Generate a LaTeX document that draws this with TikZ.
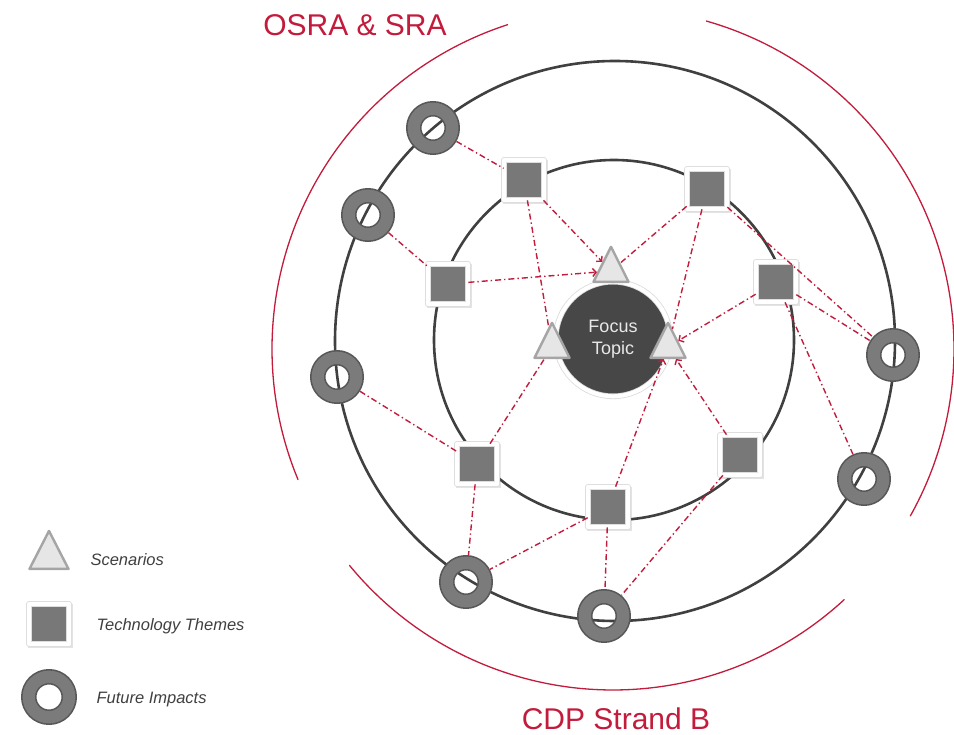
\documentclass[tikz,border=0pt]{standalone}
\usepackage{fontspec}
\setmainfont{Liberation Sans}
\usetikzlibrary{arrows.meta,shapes.geometric,shadows}
\definecolor{orbitInk}{HTML}{404040}
\definecolor{accentRed}{HTML}{C21B3C}
\definecolor{ringInk}{HTML}{575757}
\definecolor{ringGray}{HTML}{7B7B7B}
\definecolor{tileGray}{HTML}{787878}
\definecolor{triFill}{HTML}{E6E6E6}
\definecolor{triEdge}{HTML}{A5A5A5}
\definecolor{focusGray}{HTML}{474747}
\definecolor{focusText}{HTML}{E8E8E8}
\definecolor{legendInk}{HTML}{3F3F3F}
\tikzset{
 plan/.style={x=1pt,y=-1pt,line cap=round,line join=round},
 orbit/.style={draw=orbitInk,line width=2.6pt},
 halo/.style={draw=accentRed,line width=1.3pt},
 focus/.style={circle,fill=focusGray,draw=black!14,double=white,line width=.8pt,double distance=4pt,
   inner sep=0pt,minimum size=114.6pt,text=focusText,align=center,font=\fontsize{18}{22}\selectfont},
 scenario/.style={isosceles triangle,isosceles triangle apex angle=54,isosceles triangle stretches,
   shape border rotate=90,fill=triFill,draw=triEdge,line width=2.4pt,inner sep=0pt,
   minimum width=35pt,minimum height=35pt},
 theme/.style={rectangle,fill=tileGray,draw=black!13,double=white,line width=.7pt,double distance=4.6pt,
   inner sep=0pt,minimum size=40pt,
   drop shadow={opacity=.22,shadow xshift=1.2pt,shadow yshift=-1.8pt,shadow scale=1.12}},
 impact/.style={circle,draw=ringInk,double=ringGray,line width=1.6pt,double distance=12.3pt,
   inner sep=0pt,minimum size=38.5pt,outer sep=7.8pt},
 link/.style={draw=accentRed,line width=1.4pt,dash pattern=on 6pt off 3pt on 1.4pt off 3pt,line cap=butt},
 linkto/.style={link,-{Straight Barb[length=3.5pt,width=8pt]}},
 headline/.style={text=accentRed,font=\fontsize{30}{36}\selectfont,anchor=base,inner sep=0pt},
 key/.style={text=legendInk,font=\fontsize{16.5}{20}\selectfont\itshape,anchor=base west}
}

\begin{document}
\begin{tikzpicture}[plan]
 \useasboundingbox (0,0) rectangle (954,735);
 % orbits and red arcs
 \draw[orbit] (615,341) circle[radius=280];
 \draw[orbit] (614,340) circle[radius=180];
 \draw[halo] ([shift={(-108:341)}]613,349) arc[start angle=-108,end angle=-202.5,radius=341];
 \draw[halo] ([shift={(-74.1:341)}]613,349) arc[start angle=-74.1,end angle=29.3,radius=341];
 \draw[halo] ([shift={(140.6:341)}]613,349) arc[start angle=140.6,end angle=47.3,radius=341];
 \node[headline] (osra) at (355,36) {OSRA \& SRA};
 \node[headline] (cdp) at (616,729) {CDP Strand B};
 % centre
 \node[focus] (focus) at (613,339) {Focus\\Topic};
 \node[scenario] (scn1) at (611,271) {};
 \node[scenario] (scn2) at (552,347) {};
 \node[scenario] (scn3) at (668,347) {};
 % technology themes
 \node[theme] (thm1) at (524,180) {};
 \node[theme] (thm2) at (707,189) {};
 \node[theme] (thm3) at (448,284) {};
 \node[theme] (thm4) at (776,282) {};
 \node[theme] (thm5) at (477,464) {};
 \node[theme] (thm6) at (740,455) {};
 \node[theme] (thm7) at (608,507) {};
 % future impacts
 \node[impact] (imp1) at (433,128) {};
 \node[impact] (imp2) at (368,215) {};
 \node[impact] (imp3) at (337,377) {};
 \node[impact] (imp4) at (466,582) {};
 \node[impact] (imp5) at (604,616) {};
 \node[impact] (imp6) at (893,355) {};
 \node[impact] (imp7) at (864,479) {};
 % links
 \draw[link] (imp1) -- (thm1);
 \draw[link] (imp2) -- (thm3);
 \draw[linkto] (thm1) -- (scn1);
 \draw[linkto] (thm3) -- (scn1);
 \draw[link] (thm1) -- (scn2);
 \draw[link] (thm2) -- (scn1);
 \draw[link] (thm2) -- (scn3);
 \draw[linkto] (thm4) -- (scn3);
 \draw[link] (thm2) -- (imp6);
 \draw[link] (thm4) -- (imp6);
 \draw[link] (thm4) -- (imp7);
 \draw[link] (imp3) -- (thm5);
 \draw[link] (thm5) -- (scn2);
 \draw[link] (thm5) -- (imp4);
 \draw[linkto] (thm7) -- (scn3);
 \draw[linkto] (thm6) -- (scn3);
 \draw[link] (thm6) -- (imp5);
 \draw[link] (thm7) -- (imp4);
 \draw[link] (thm7) -- (imp5);
 % legend
 \node[scenario,minimum width=39pt,minimum height=38pt] (keyscn) at (49,557) {};
 \node[theme] (keythm) at (49,624) {};
 \node[impact,minimum size=40.5pt] (keyimp) at (49,697) {};
 \node[key] (keyscntxt) at (87,565) {Scenarios};
 \node[key] (keythmtxt) at (93,630) {Technology Themes};
 \node[key] (keyimptxt) at (93,703) {Future Impacts};
\end{tikzpicture}
\end{document}
